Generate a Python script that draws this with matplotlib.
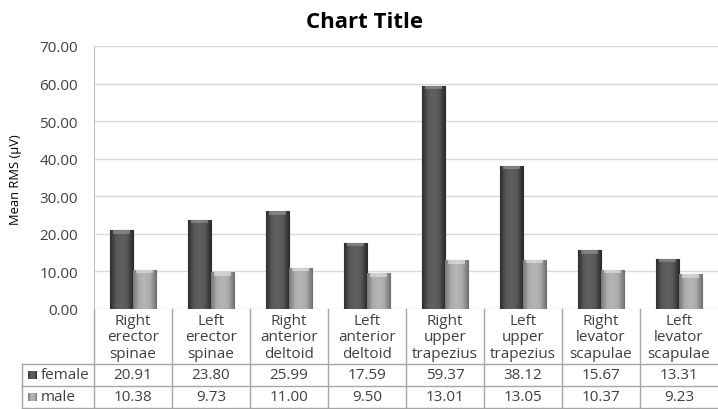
import numpy as np
import matplotlib
matplotlib.use("Agg")
import matplotlib.pyplot as plt
from matplotlib import transforms
from matplotlib.colors import LinearSegmentedColormap
from matplotlib.patches import Rectangle

plt.rcParams['font.family'] = ['Open Sans', 'DejaVu Sans']

categories = ["Right\nerector\nspinae", "Left\nerector\nspinae", "Right\nanterior\ndeltoid",
              "Left\nanterior\ndeltoid", "Right\nupper\ntrapezius", "Left\nupper\ntrapezius",
              "Right\nlevator\nscapulae", "Left\nlevator\nscapulae"]
female = [20.91, 23.80, 25.99, 17.59, 59.37, 38.12, 15.67, 13.31]
male = [10.38, 9.73, 11.00, 9.50, 13.01, 13.05, 10.37, 9.23]
series_names = ["female", "male"]
yticks = [0, 10, 20, 30, 40, 50, 60, 70]

W, H = 718, 410
fig = plt.figure(figsize=(W / 100, H / 100), dpi=100)
fig.patch.set_facecolor("white")

# plot area in pixel coordinates
left_px, right_px, top_px, bottom_px = 94, 718, 47, 310
ax = fig.add_axes([left_px / W, 1 - bottom_px / H, (right_px - left_px) / W, (bottom_px - top_px) / H])

n = len(categories)
x = np.arange(n)
bw = 0.29
txt_c = "#404040"
fs = 11

ax.set_xlim(-0.5, n - 0.5)
ax.set_ylim(0, 70)
ax.set_yticks(yticks)
ax.set_yticklabels([f"{v:.2f}" for v in yticks], fontsize=fs, color=txt_c)
ax.set_xticks([])
ax.tick_params(axis="y", length=0, pad=11.5)
ax.yaxis.grid(True, color="#d9d9d9", linewidth=1.0)
ax.set_axisbelow(True)
for s in ["top", "right", "bottom"]:
    ax.spines[s].set_visible(False)
ax.spines["left"].set_color("#bfbfbf")

cmap_f = LinearSegmentedColormap.from_list("f", ["#2e2e2e", "#585858", "#606060", "#585858", "#2e2e2e"])
cmap_m = LinearSegmentedColormap.from_list("m", ["#777777", "#acacac", "#b6b6b6", "#acacac", "#777777"])
grad = np.linspace(0, 1, 64).reshape(1, -1)


def shaded_bars(xs, vals, cmap, edge, cap):
    bars = ax.bar(xs, vals, bw, color=cmap(0.5), edgecolor=edge, linewidth=0.8, zorder=3)
    for b in bars:
        x0, w, h = b.get_x(), b.get_width(), b.get_height()
        im = ax.imshow(grad, cmap=cmap, extent=[x0, x0 + w, 0, h], aspect="auto", zorder=3.5,
                       interpolation="bilinear")
        im.set_clip_path(b)
        # lighter bevel cap on top
        ax.add_patch(Rectangle((x0 + w * 0.12, h - 0.9), w * 0.76, 0.9, facecolor=cap,
                               edgecolor="none", alpha=0.6, zorder=4))
    return bars


shaded_bars(x - bw / 2, female, cmap_f, "#2a2a2a", "#9a9a9a")
shaded_bars(x + bw / 2, male, cmap_m, "#707070", "#e6e6e6")

ax.set_xlim(-0.5, n - 0.5)
ax.set_ylim(0, 70)

fig.text(365 / W, 1 - 23 / H, "Chart Title", ha="center", va="center", fontsize=16,
         fontweight="bold", color="black")
fig.text(16 / W, 1 - 180 / H, "Mean RMS (µV)", rotation=90, ha="center", va="center",
         fontsize=9.3, color="black")

# data table below the plot
tr = transforms.blended_transform_factory(ax.transData, fig.transFigure)
ftr = fig.transFigure
line_c = "#a6a6a6"


def fy(py):
    return 1 - py / H


row_head, row_f, row_m, row_end = 310, 365, 387, 409
tbl_left_px = 22

for i in range(1, n):
    ax.plot([i - 0.5, i - 0.5], [fy(row_head), fy(row_end)], transform=tr, color=line_c,
            linewidth=1, clip_on=False)
ax.plot([left_px / W, left_px / W], [fy(row_head), fy(row_end)], transform=ftr, color=line_c,
        linewidth=1, clip_on=False)
for py in (row_f, row_m, row_end):
    ax.plot([tbl_left_px / W, 1], [fy(py), fy(py)], transform=ftr, color=line_c, linewidth=1,
            clip_on=False)
ax.plot([tbl_left_px / W, tbl_left_px / W], [fy(row_f), fy(row_end)], transform=ftr,
        color=line_c, linewidth=1, clip_on=False)

for i, c in enumerate(categories):
    ax.text(i, fy((row_head + row_f) / 2 + 0.5), c, transform=tr, ha="center", va="center",
            fontsize=fs, color=txt_c, linespacing=1.12, clip_on=False)
    ax.text(i, fy((row_f + row_m) / 2), f"{female[i]:.2f}", transform=tr, ha="center",
            va="center", fontsize=fs, color=txt_c, clip_on=False)
    ax.text(i, fy((row_m + row_end) / 2), f"{male[i]:.2f}", transform=tr, ha="center",
            va="center", fontsize=fs, color=txt_c, clip_on=False)

# legend keys inside the table
for name, (r0, r1), cm in zip(series_names, [(row_f, row_m), (row_m, row_end)], [cmap_f, cmap_m]):
    cy = (r0 + r1) / 2
    key_ax = fig.add_axes([28 / W, fy(cy + 4), 9 / W, 8 / H])
    key_ax.imshow(grad, cmap=cm, aspect="auto", interpolation="bilinear")
    key_ax.axis("off")
    fig.text(41 / W, fy(cy), name, ha="left", va="center", fontsize=fs, color=txt_c)

fig.savefig("out.png", dpi=100, facecolor="white")
